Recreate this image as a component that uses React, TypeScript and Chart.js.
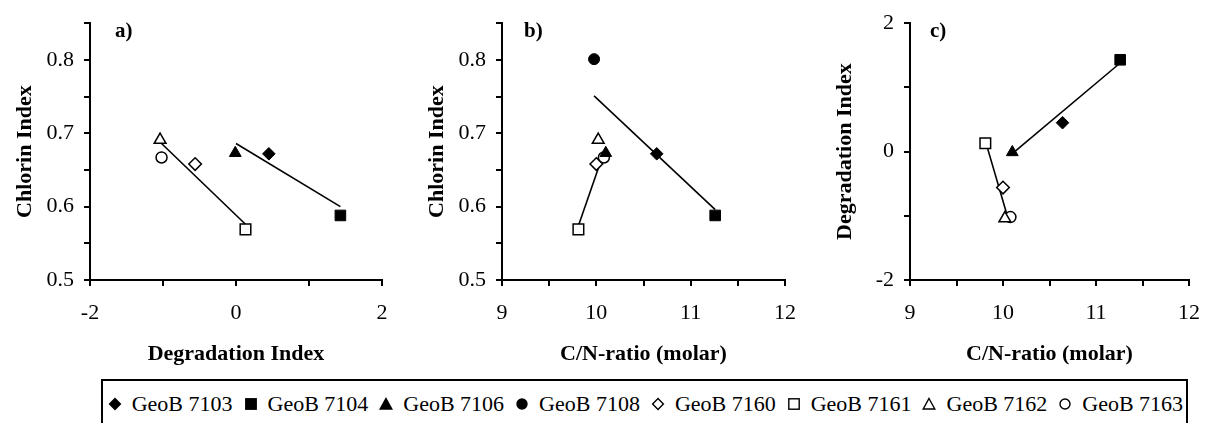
import React, { useEffect, useRef } from 'react';
import { Chart, registerables } from 'chart.js';

Chart.register(...registerables);

// ---------------- data ----------------
const samples = ['GeoB 7103', 'GeoB 7104', 'GeoB 7106', 'GeoB 7108', 'GeoB 7160', 'GeoB 7161', 'GeoB 7162', 'GeoB 7163'];
const chlorinIndex = [0.672, 0.588, 0.673, 0.801, 0.658, 0.569, 0.691, 0.667];
const degradationIndex: (number | null)[] = [0.45, 1.43, -0.01, null, -0.56, 0.13, -1.04, -1.02];
const cnRatio = [10.64, 11.26, 10.1, 9.976, 10.0, 9.81, 10.02, 10.08];
const markerShapes = ['rectRot', 'rect', 'triangle', 'circle', 'rectRot', 'rect', 'triangle', 'circle'];
const markerFilled = [true, true, true, true, false, false, false, false];

// trend lines (end points)
const trendA1X = [-1.02, 0.13];
const trendA1Y = [0.686, 0.576];
const trendA2X = [0.0, 1.43];
const trendA2Y = [0.686, 0.6];
const trendB1X = [9.976, 11.26];
const trendB1Y = [0.751, 0.596];
const trendB2X = [9.81, 10.08];
const trendB2Y = [0.574, 0.674];
const trendC1X = [10.1, 11.26];
const trendC1Y = [-0.03, 1.38];
const trendC2X = [9.82, 10.05];
const trendC2Y = [0.12, -1.02];

// axis ticks
const chlorinTicks = { min: 0.5, max: 0.85, step: 0.05 };
const degTicks = { min: -2, max: 2, step: 1 };
const cnTicks = { min: 9, max: 12, step: 0.5 };

const FONT = '"Liberation Serif", "Times New Roman", serif';

const radiusFor = (shape: string) =>
  shape === 'rect' ? 7.5 : shape === 'triangle' ? 6.8 : shape === 'circle' ? 5.5 : 6.3;

function pointDatasets(xs: (number | null)[], ys: (number | null)[]) {
  const out: any[] = [];
  samples.forEach((name, i) => {
    const x = xs[i];
    const y = ys[i];
    if (x === null || y === null) return;
    out.push({
      label: name,
      data: [{ x, y }],
      pointStyle: markerShapes[i],
      pointRadius: radiusFor(markerShapes[i]),
      pointBackgroundColor: markerFilled[i] ? '#000' : '#fff',
      pointBorderColor: '#000',
      pointBorderWidth: markerFilled[i] ? 1 : 1.5,
      showLine: false,
      order: 0,
    });
  });
  return out;
}

function trendDataset(xs: number[], ys: number[]) {
  return {
    label: 'trend',
    data: xs.map((x, i) => ({ x, y: ys[i] })),
    showLine: true,
    pointRadius: 0,
    borderColor: '#000',
    borderWidth: 1.6,
    order: 1,
  };
}

const panelLabel = {
  id: 'panelLabel',
  afterDraw(chart: any, _args: any, opts: any) {
    const { ctx, chartArea } = chart;
    ctx.save();
    ctx.font = `bold 21px ${FONT}`;
    ctx.fillStyle = '#000';
    ctx.textBaseline = 'alphabetic';
    ctx.textAlign = 'left';
    ctx.fillText(opts.text, chartArea.left + opts.dx, chartArea.top + opts.dy);
    ctx.restore();
  },
};

type PanelProps = {
  left: number;
  width: number;
  yAxisWidth: number;
  rightPad: number;
  yTitlePad: number;
  label: string;
  labelDx: number;
  xTitle: string;
  yTitle: string;
  xTicks: { min: number; max: number; step: number };
  yTicks: { min: number; max: number; step: number };
  xLabelFn: (v: number) => string;
  yLabelFn: (v: number) => string;
  datasets: any[];
};

const HEIGHT = 375;
const TOP = 23;
const BOTTOM = 280;

function Panel(p: PanelProps) {
  const ref = useRef<HTMLCanvasElement>(null);
  useEffect(() => {
    if (!ref.current) return;
    const grid = {
      display: true,
      drawOnChartArea: false,
      drawTicks: true,
      tickLength: 6,
      color: '#000',
      lineWidth: 2,
    };
    const border = { display: true, color: '#000', width: 2 };
    const chart = new Chart(ref.current, {
      type: 'scatter',
      data: { datasets: p.datasets },
      plugins: [panelLabel],
      options: {
        animation: false,
        responsive: false,
        devicePixelRatio: 1,
        layout: { padding: { top: TOP, right: p.rightPad, left: 0, bottom: 0 } },
        plugins: {
          legend: { display: false },
          tooltip: { enabled: false },
          panelLabel: { text: p.label, dx: p.labelDx, dy: 14 },
        } as any,
        scales: {
          x: {
            type: 'linear',
            min: p.xTicks.min,
            max: p.xTicks.max,
            grid,
            border,
            ticks: {
              stepSize: p.xTicks.step,
              autoSkip: false,
              maxRotation: 0,
              padding: 14,
              color: '#000',
              font: { family: FONT, size: 22 },
              callback: (v: any) => p.xLabelFn(Number(v)),
            },
            title: {
              display: true,
              text: p.xTitle,
              color: '#000',
              font: { family: FONT, size: 22, weight: 'bold' },
              padding: { top: 0, bottom: 7 },
            },
            afterFit: (s: any) => {
              s.height = HEIGHT - BOTTOM;
            },
          },
          y: {
            type: 'linear',
            min: p.yTicks.min,
            max: p.yTicks.max,
            grid,
            border,
            ticks: {
              stepSize: p.yTicks.step,
              autoSkip: false,
              padding: 10,
              color: '#000',
              font: { family: FONT, size: 22 },
              callback: (v: any) => p.yLabelFn(Number(v)),
            },
            title: {
              display: true,
              text: p.yTitle,
              color: '#000',
              font: { family: FONT, size: 22, weight: 'bold' },
              padding: { top: p.yTitlePad, bottom: 0 },
            },
            afterFit: (s: any) => {
              s.width = p.yAxisWidth;
            },
          },
        },
      } as any,
    });
    return () => chart.destroy();
  }, []);
  return (
    <div style={{ position: 'absolute', left: p.left, top: 0, width: p.width, height: HEIGHT }}>
      <canvas ref={ref} width={p.width} height={HEIGHT} style={{ display: 'block' }} />
    </div>
  );
}

const chlorinLabel = (v: number) => {
  const n = Math.round(v * 100);
  return n % 10 === 0 && n <= 80 ? (n / 100).toFixed(1) : '';
};
const evenLabel = (v: number) => (Math.round(v) === v && Math.round(v) % 2 === 0 ? String(v) : '');
const intLabel = (v: number) => (Math.abs(v - Math.round(v)) < 1e-9 ? String(Math.round(v)) : '');

function LegendMarker({ shape, filled }: { shape: string; filled: boolean }) {
  const fill = filled ? '#000' : '#fff';
  const sw = 1.4;
  let el: any;
  if (shape === 'rectRot') el = <polygon points="7,1.6 12.4,7 7,12.4 1.6,7" fill={fill} stroke="#000" strokeWidth={sw} />;
  else if (shape === 'rect') el = <rect x={1.8} y={1.8} width={10.4} height={10.4} fill={fill} stroke="#000" strokeWidth={sw} />;
  else if (shape === 'triangle') el = <polygon points="7,1.5 12.8,12 1.2,12" fill={fill} stroke="#000" strokeWidth={sw} />;
  else el = <circle cx={7} cy={7} r={5} fill={fill} stroke="#000" strokeWidth={sw} />;
  return (
    <svg width={14} height={14} viewBox="0 0 14 14" style={{ display: 'block' }}>
      {el}
    </svg>
  );
}

function Legend() {
  const boxLeft = 101;
  const boxTop = 379;
  return (
    <div
      style={{
        position: 'absolute',
        left: boxLeft,
        top: boxTop,
        width: 1087,
        height: 80,
        border: '2px solid #000',
        boxSizing: 'border-box',
      }}
    >
      {samples.map((name, i) => (
        <React.Fragment key={name}>
          <div style={{ position: 'absolute', left: 115 + 135.7 * i - 7 - boxLeft - 2, top: 404 - 7 - boxTop - 2 }}>
            <LegendMarker shape={markerShapes[i]} filled={markerFilled[i]} />
          </div>
          <div
            style={{
              position: 'absolute',
              left: 131.7 + 135.8 * i - boxLeft - 2,
              top: 393.3 - boxTop - 2,
              fontFamily: FONT,
              fontSize: 22,
              lineHeight: '22px',
              whiteSpace: 'nowrap',
              color: '#000',
            }}
          >
            {name}
          </div>
        </React.Fragment>
      ))}
    </div>
  );
}

export default function App() {
  return (
    <div style={{ position: 'absolute', left: 0, top: 0, width: 1214, height: 423, overflow: 'hidden', background: '#fff' }}>
      <Panel
        left={0}
        width={410}
        yAxisWidth={90}
        rightPad={28}
        yTitlePad={11.8}
        label="a)"
        labelDx={25}
        xTitle="Degradation Index"
        yTitle="Chlorin Index"
        xTicks={degTicks}
        yTicks={chlorinTicks}
        xLabelFn={evenLabel}
        yLabelFn={chlorinLabel}
        datasets={[
          ...pointDatasets(degradationIndex, chlorinIndex),
          trendDataset(trendA1X, trendA1Y),
          trendDataset(trendA2X, trendA2Y),
        ]}
      />
      <Panel
        left={410}
        width={400}
        yAxisWidth={92}
        rightPad={17}
        yTitlePad={13.8}
        label="b)"
        labelDx={22}
        xTitle="C/N-ratio (molar)"
        yTitle="Chlorin Index"
        xTicks={cnTicks}
        yTicks={chlorinTicks}
        xLabelFn={intLabel}
        yLabelFn={chlorinLabel}
        datasets={[
          ...pointDatasets(cnRatio, chlorinIndex),
          trendDataset(trendB1X, trendB1Y),
          trendDataset(trendB2X, trendB2Y),
        ]}
      />
      <Panel
        left={810}
        width={404}
        yAxisWidth={100}
        rightPad={12}
        yTitlePad={21.8}
        label="c)"
        labelDx={20}
        xTitle="C/N-ratio (molar)"
        yTitle="Degradation Index"
        xTicks={cnTicks}
        yTicks={degTicks}
        xLabelFn={intLabel}
        yLabelFn={evenLabel}
        datasets={[
          ...pointDatasets(cnRatio, degradationIndex),
          trendDataset(trendC1X, trendC1Y),
          trendDataset(trendC2X, trendC2Y),
        ]}
      />
      <Legend />
    </div>
  );
}
